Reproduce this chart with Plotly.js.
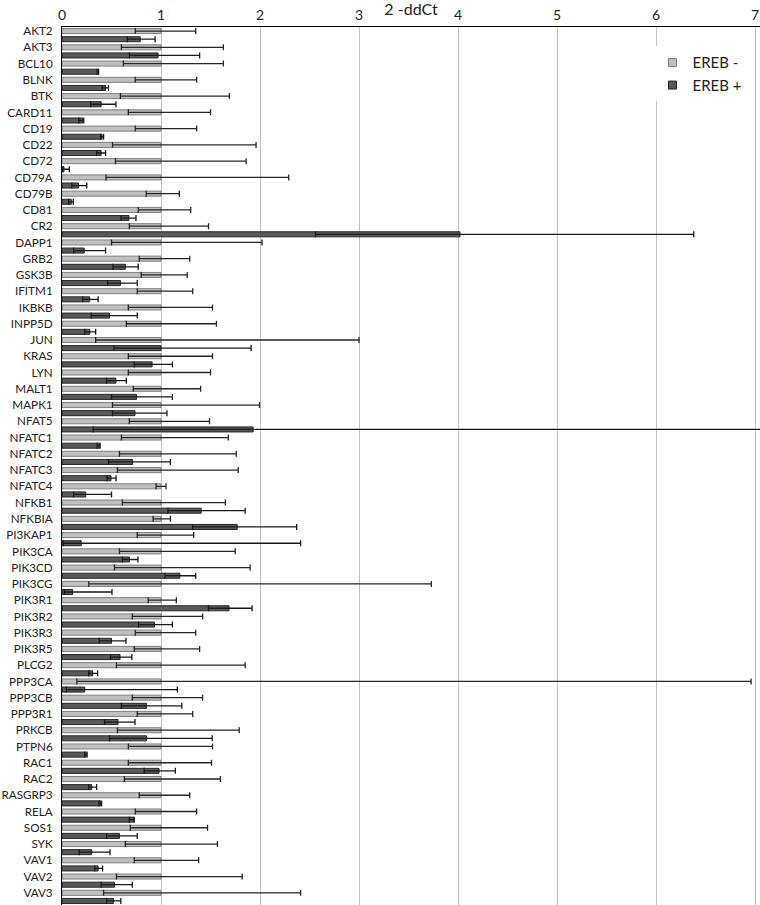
<!DOCTYPE html>
<html>
<head>
<meta charset="utf-8">
<script src="https://cdn.plot.ly/plotly-3.0.1.min.js"></script>
<style>
  body { margin: 0; background: #fff; }
  #chart { width: 760px; height: 905px; }
</style>
</head>
<body>
<div id="chart"></div>
<script>
// gene names, top to bottom
var genes = ["AKT2","AKT3","BCL10","BLNK","BTK","CARD11","CD19","CD22","CD72","CD79A",
  "CD79B","CD81","CR2","DAPP1","GRB2","GSK3B","IFITM1","IKBKB","INPP5D","JUN",
  "KRAS","LYN","MALT1","MAPK1","NFAT5","NFATC1","NFATC2","NFATC3","NFATC4","NFKB1",
  "NFKBIA","PI3KAP1","PIK3CA","PIK3CD","PIK3CG","PIK3R1","PIK3R2","PIK3R3","PIK3R5","PLCG2",
  "PPP3CA","PPP3CB","PPP3R1","PRKCB","PTPN6","RAC1","RAC2","RASGRP3","RELA","SOS1",
  "SYK","VAV1","VAV2","VAV3"];

// EREB - (control, always 1) with lower / upper error ends
var minusVal = [1,1,1,1,1,1,1,1,1,1, 1,1,1,1,1,1,1,1,1,1, 1,1,1,1,1,1,1,1,1,1,
  1,1,1,1,1,1,1,1,1,1, 1,1,1,1,1,1,1,1,1,1, 1,1,1,1];
var minusLow = [0.74,0.60,0.62,0.74,0.59,0.67,0.74,0.51,0.54,0.445,
  0.85,0.77,0.68,0.50,0.78,0.80,0.76,0.67,0.65,0.34,
  0.67,0.67,0.72,0.51,0.68,0.60,0.58,0.56,0.95,0.61,
  0.92,0.76,0.58,0.53,0.27,0.87,0.71,0.74,0.73,0.55,
  0.15,0.71,0.76,0.56,0.67,0.67,0.63,0.78,0.74,0.69,
  0.64,0.73,0.55,0.42];
var minusHigh = [1.35,1.63,1.63,1.36,1.69,1.50,1.36,1.96,1.86,2.29,
  1.185,1.30,1.48,2.02,1.29,1.265,1.32,1.52,1.56,3.0,
  1.52,1.50,1.40,1.995,1.49,1.68,1.76,1.78,1.05,1.65,
  1.095,1.33,1.75,1.90,3.73,1.155,1.42,1.35,1.39,1.85,
  6.96,1.42,1.32,1.79,1.52,1.51,1.60,1.29,1.36,1.47,
  1.57,1.38,1.82,2.41];

// EREB +
var plusVal = [0.79,0.97,0.365,0.44,0.395,0.21,0.405,0.395,0.02,0.167,
  0.094,0.676,4.02,0.224,0.64,0.59,0.28,0.48,0.28,1.0,
  0.91,0.545,0.753,0.737,1.93,0.378,0.713,0.495,0.24,1.406,
  1.77,0.194,0.68,1.19,0.107,1.687,0.934,0.50,0.586,0.31,
  0.23,0.854,0.566,0.854,0.244,0.98,0.30,0.39,0.723,0.58,
  0.30,0.365,0.53,0.52];
var plusLow = [0.66,0.68,0.355,0.405,0.29,0.17,0.39,0.35,0.007,0.10,
  0.067,0.596,2.56,0.117,0.515,0.46,0.21,0.295,0.23,0.525,
  0.73,0.45,0.50,0.51,0.315,0.355,0.47,0.455,0.117,1.07,
  1.32,0.013,0.61,1.04,0.023,1.48,0.773,0.375,0.49,0.27,
  0.044,0.60,0.43,0.48,0.23,0.83,0.27,0.375,0.68,0.45,
  0.174,0.33,0.395,0.45];
var plusHigh = [0.94,1.39,0.37,0.47,0.545,0.22,0.42,0.44,0.074,0.25,
  0.114,0.747,6.38,0.44,0.77,0.76,0.365,0.76,0.34,1.91,
  1.115,0.65,1.115,1.06,7.3,0.385,1.095,0.546,0.50,1.85,
  2.37,2.41,0.767,1.35,0.505,1.92,1.115,0.646,0.706,0.36,
  1.165,1.21,0.737,1.517,0.254,1.145,0.35,0.40,0.73,0.76,
  0.485,0.41,0.71,0.594];

var lightColor = "#c0c0c0", lightLine = "#7f7f7f";
var darkColor = "#595959", darkLine = "#262626";

function errUp(val, high) { return val.map((v, i) => high[i] - v); }
function errDown(val, low) { return val.map((v, i) => v - low[i]); }

var traceMinus = {
  type: "bar",
  orientation: "h",
  name: "EREB -",
  showlegend: false,
  y: genes,
  x: minusVal,
  marker: { color: lightColor, line: { color: lightLine, width: 1 } },
  error_x: {
    type: "data", symmetric: false,
    array: errUp(minusVal, minusHigh),
    arrayminus: errDown(minusVal, minusLow),
    color: "#262626", thickness: 1.3, width: 3
  }
};

var tracePlus = {
  type: "bar",
  orientation: "h",
  name: "EREB +",
  showlegend: false,
  y: genes,
  x: plusVal,
  marker: { color: darkColor, line: { color: darkLine, width: 1 } },
  error_x: {
    type: "data", symmetric: false,
    array: errUp(plusVal, plusHigh),
    arrayminus: errDown(plusVal, plusLow),
    color: "#1a1a1a", thickness: 1.3, width: 3
  }
};

// small square legend keys like the original
var keyMinus = {
  type: "scatter", mode: "markers", name: "EREB -",
  x: [null], y: [null], hoverinfo: "skip",
  marker: { symbol: "square", size: 8, color: lightColor, line: { color: lightLine, width: 1 } }
};
var keyPlus = {
  type: "scatter", mode: "markers", name: "EREB +",
  x: [null], y: [null], hoverinfo: "skip",
  marker: { symbol: "square", size: 8, color: darkColor, line: { color: darkLine, width: 1 } }
};

var layout = {
  width: 760,
  height: 905,
  margin: { l: 62, r: 0, t: 27, b: 0 },
  paper_bgcolor: "#ffffff",
  plot_bgcolor: "#ffffff",
  font: { family: "Lato, sans-serif", color: "#222" },
  title: {
    text: "2 -ddCt",
    font: { size: 16, color: "#222" },
    xref: "paper", x: 0.5, xanchor: "center",
    yref: "container", y: 0.9895, yanchor: "middle"
  },
  barmode: "group",
  bargap: 0,
  bargroupgap: 0.38,
  showlegend: true,
  legend: {
    x: 0.846, y: 0.978, xanchor: "left", yanchor: "top",
    bgcolor: "#ffffff",
    font: { size: 15, color: "#222" },
    itemwidth: 30,
    traceorder: "normal"
  },
  xaxis: {
    side: "top",
    range: [0, 7.05],
    tickvals: [0, 1, 2, 3, 4, 5, 6, 7],
    showgrid: true,
    gridcolor: "#c0c0c0",
    gridwidth: 1,
    zeroline: false,
    showline: true,
    linecolor: "#000",
    linewidth: 1,
    ticks: "",
    tickfont: { size: 14, color: "#222" }
  },
  yaxis: {
    type: "category",
    autorange: "reversed",
    showgrid: false,
    zeroline: false,
    showline: true,
    linecolor: "#000",
    linewidth: 1,
    ticks: "",
    ticklabelstandoff: 6,
    ticklabelshift: 4,
    tickfont: { size: 11.7, color: "#222" }
  }
};

Plotly.newPlot("chart", [traceMinus, tracePlus, keyMinus, keyPlus], layout,
  { displayModeBar: false, staticPlot: true });
</script>
</body>
</html>
